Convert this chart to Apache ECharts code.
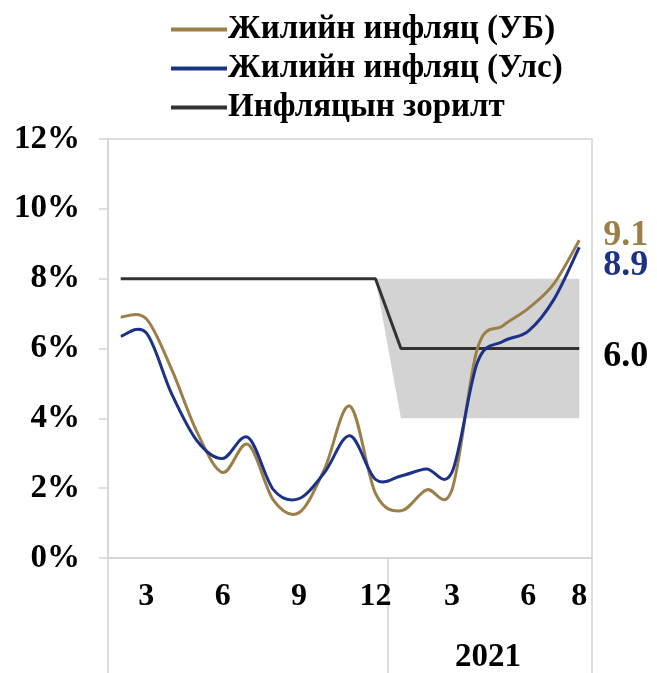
<!DOCTYPE html>
<html>
<head>
<meta charset="utf-8">
<script src="https://cdn.jsdelivr.net/npm/echarts@6/dist/echarts.min.js"></script>
<style>
  html, body { margin: 0; padding: 0; background: #fff; }
  #chart { width: 657px; height: 673px; }
</style>
</head>
<body>
<div id="chart"></div>
<script>
var months = ['2020-02', '2020-03', '2020-04', '2020-05', '2020-06', '2020-07', '2020-08', '2020-09', '2020-10', '2020-11', '2020-12',
              '2021-01', '2021-02', '2021-03', '2021-04', '2021-05', '2021-06', '2021-07', '2021-08'];
var ub = [6.9, 6.85, 5.4, 3.6, 2.45, 3.25, 1.65, 1.3, 2.55, 4.35, 1.85, 1.35, 1.95, 1.95, 6.0, 6.65, 7.15, 7.85, 9.1];
var uls = [6.35, 6.45, 4.7, 3.35, 2.85, 3.45, 1.95, 1.7, 2.45, 3.5, 2.25, 2.35, 2.55, 2.45, 5.6, 6.2, 6.5, 7.4, 8.9];
var target = [8, 8, 8, 8, 8, 8, 8, 8, 8, 8, 8, 6, 6, 6, 6, 6, 6, 6, 6];
// band around target: lower edge and its width
var bandLow = ['-', '-', '-', '-', '-', '-', '-', '-', '-', '-', 8, 4, 4, 4, 4, 4, 4, 4, 4];
var bandWidth = ['-', '-', '-', '-', '-', '-', '-', '-', '-', '-', 0, 4, 4, 4, 4, 4, 4, 4, 4];
var shownMonths = ['2020-03', '2020-06', '2020-09', '2020-12', '2021-03', '2021-06', '2021-08'];
var yearLabel = '2021';

var names = ['Жилийн инфляц (УБ)', 'Жилийн инфляц (Улс)', 'Инфляцын зорилт'];
var gold = '#9b7f48';
var blue = '#1c3289';
var dark = '#333333';
var font = 'Liberation Serif';
var axisGrey = '#d4d4d4';

var myChart = echarts.init(document.getElementById('chart'));

// smooth curve through the points (like the spreadsheet smoothing)
function curve(values, color) {
    return function (params, api) {
        var pts = values.map(function (v, i) { return api.coord([i, v]); });
        var d = 'M' + pts[0][0] + ',' + pts[0][1];
        for (var i = 0; i < pts.length - 1; i++) {
            var p0 = pts[i - 1] || pts[i];
            var p1 = pts[i];
            var p2 = pts[i + 1];
            var p3 = pts[i + 2] || pts[i + 1];
            var c1x = p1[0] + (p2[0] - p0[0]) / 6, c1y = p1[1] + (p2[1] - p0[1]) / 6;
            var c2x = p2[0] - (p3[0] - p1[0]) / 6, c2y = p2[1] - (p3[1] - p1[1]) / 6;
            d += 'C' + c1x + ',' + c1y + ',' + c2x + ',' + c2y + ',' + p2[0] + ',' + p2[1];
        }
        return {
            type: 'path',
            shape: { pathData: d },
            style: { fill: 'none', stroke: color, lineWidth: 3, lineJoin: 'round' }
        };
    };
}

function endLabel(color, dy) {
    return {
        show: true,
        distance: 24,
        offset: [0, dy],
        color: color,
        fontFamily: font,
        fontWeight: 'bold',
        fontSize: 36,
        formatter: function (p) {
            return Number(p.value).toFixed(1);
        }
    };
}

option = {
    animation: false,
    legend: {
        orient: 'vertical',
        left: 166,
        top: 8,
        itemWidth: 56,
        itemHeight: 4,
        itemGap: 6,
        icon: 'rect',
        data: [
            { name: names[0], itemStyle: { color: gold } },
            { name: names[1], itemStyle: { color: blue } },
            { name: names[2], itemStyle: { color: dark } }
        ],
        textStyle: {
            fontFamily: font,
            fontWeight: 'bold',
            fontSize: 33,
            lineHeight: 33,
            color: '#000',
            padding: [0, 0, 0, -4]
        }
    },
    grid: {
        left: 108,
        right: 65,
        top: 139,
        bottom: 115,
        show: true,
        borderColor: axisGrey,
        borderWidth: 1.5
    },
    xAxis: {
        type: 'category',
        data: months,
        boundaryGap: true,
        axisLine: { lineStyle: { color: axisGrey, width: 1.5 } },
        axisTick: {
            show: true,
            length: 115,
            lineStyle: { color: axisGrey, width: 1.5 },
            interval: function (i) {
                return i === 0 || i === 11;
            }
        },
        axisLabel: {
            margin: 22,
            fontFamily: font,
            fontWeight: 'bold',
            fontSize: 32,
            lineHeight: 34,
            color: '#000',
            interval: function (i, v) {
                return shownMonths.indexOf(v) >= 0;
            },
            formatter: function (v) {
                return String(parseInt(v.split('-')[1], 10));
            }
        }
    },
    yAxis: {
        type: 'value',
        min: 0,
        max: 12,
        interval: 2,
        splitLine: { show: false },
        axisLine: { show: true, lineStyle: { color: axisGrey, width: 1.5 } },
        axisTick: { show: true, length: 9, lineStyle: { color: axisGrey, width: 1.5 } },
        axisLabel: {
            margin: 28,
            fontFamily: font,
            fontWeight: 'bold',
            fontSize: 33,
            color: '#000',
            formatter: '{value}%'
        }
    },
    graphic: [{
        type: 'text',
        left: 455,
        top: 641,
        style: {
            text: yearLabel,
            fontFamily: font,
            fontWeight: 'bold',
            fontSize: 33,
            fill: '#000'
        }
    }],
    series: [
        {
            name: 'bandLow',
            type: 'line',
            stack: 'band',
            data: bandLow,
            symbol: 'none',
            lineStyle: { opacity: 0 },
            z: 1,
            silent: true
        },
        {
            name: 'bandWidth',
            type: 'line',
            stack: 'band',
            data: bandWidth,
            symbol: 'none',
            lineStyle: { opacity: 0 },
            areaStyle: { color: '#d3d3d3', opacity: 1 },
            z: 1,
            silent: true
        },
        {
            name: names[2],
            type: 'line',
            data: target,
            symbol: 'none',
            color: dark,
            lineStyle: { width: 3, color: dark },
            endLabel: endLabel('#000', 8),
            z: 3
        },
        {
            name: names[0],
            type: 'custom',
            data: [[0, ub[0]]],
            color: gold,
            silent: true,
            z: 4,
            renderItem: curve(ub, gold)
        },
        {
            name: names[1],
            type: 'custom',
            data: [[0, uls[0]]],
            color: blue,
            silent: true,
            z: 5,
            renderItem: curve(uls, blue)
        },
        // invisible carriers for the end value labels
        {
            name: 'ubEnd',
            type: 'line',
            data: ub,
            symbol: 'none',
            lineStyle: { width: 0, color: 'rgba(0,0,0,0)' },
            endLabel: endLabel(gold, -5),
            z: 6,
            silent: true
        },
        {
            name: 'ulsEnd',
            type: 'line',
            data: uls,
            symbol: 'none',
            lineStyle: { width: 0, color: 'rgba(0,0,0,0)' },
            endLabel: endLabel(blue, 18),
            z: 6,
            silent: true
        }
    ]
};
myChart.setOption(option);
</script>
</body>
</html>
